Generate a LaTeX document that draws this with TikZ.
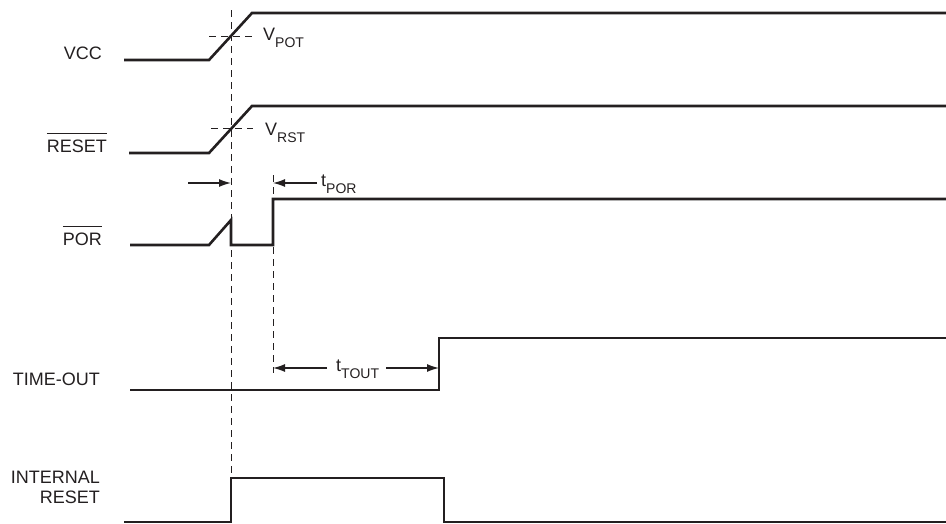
\documentclass[tikz,border=0pt]{standalone}
\usepackage{fontspec}
\setmainfont{Liberation Sans}
\usetikzlibrary{arrows.meta}
\definecolor{ink}{RGB}{35,31,32}
\newcommand\lsub[1]{\raisebox{-7pt}{\fontsize{14}{14}\selectfont #1}}
\newcommand\ovl[1]{\vbox{\hrule height 0.9pt \kern 6pt \hbox{#1}}}
\begin{document}
\begin{tikzpicture}[x=1pt,y=-1pt,
  sig/.style={draw=ink, line width=2.6pt, line join=miter},
  dsh/.style={draw=ink, line width=1pt, dash pattern=on 7pt off 5pt},
  dimarrow/.style={draw=ink, line width=1.3pt, -{Latex[length=12pt,width=8pt]}},
  lbl/.style={font=\fontsize{18}{20}\selectfont, inner sep=0pt, text=ink}]
\useasboundingbox (0,0) rectangle (946,523);

% labels
\node[lbl, anchor=base east] (lvcc) at (102,59) {VCC};
\node[lbl, anchor=base east] (lrst) at (107,152) {\ovl{RESET}};
\node[lbl, anchor=base east] (lpor) at (102,245) {\ovl{POR}};
\node[lbl, anchor=base east] (lto) at (100,385) {TIME-OUT};
\node[lbl, anchor=base east, align=right] (lir) at (100,503) {INTERNAL\\RESET};

% coordinates
\coordinate (vdTop) at (231,10);
\coordinate (vdBot) at (231,523);
\coordinate (pdTop) at (273,175);
\coordinate (pdBot) at (273,373);

% dashed verticals
\draw[dsh] (vdTop) -- (vdBot);
\draw[dsh] (pdTop) -- (pdBot);

% threshold dashes
\coordinate (potA) at (209,36); \coordinate (potB) at (253,36);
\coordinate (rstA) at (211,128); \coordinate (rstB) at (253,128);
\draw[dsh] (potA) -- (potB);
\draw[dsh] (rstA) -- (rstB);
\node[lbl, anchor=base west] (vpot) at (263,40) {V\lsub{POT}};
\node[lbl, anchor=base west] (vrst) at (265,135) {V\lsub{RST}};

% signals
\draw[sig] (124,60) -- (209,60) -- (252,13) -- (946,13);
\draw[sig] (129,153) -- (209,153) -- (252,106) -- (946,106);
\draw[sig] (130,245) -- (209,245) -- (231,220) -- (231,245) -- (273,245) -- (273,199) -- (946,199);
\draw[sig] (130,390) -- (439,390) -- (439,338) -- (946,338);
\draw[sig] (124,522) -- (231,522) -- (231,478) -- (444,478) -- (444,522) -- (946,522);

% dimension arrows
\coordinate (a1s) at (188,183); \coordinate (a1e) at (231,183);
\coordinate (a2s) at (317,183); \coordinate (a2e) at (273,183);
\coordinate (a3s) at (327,368); \coordinate (a3e) at (273,368);
\coordinate (a4s) at (386,368); \coordinate (a4e) at (439,368);
\draw[dimarrow] (a1s) -- (a1e);
\draw[dimarrow] (a2s) -- (a2e);
\draw[dimarrow] (a3s) -- (a3e);
\draw[dimarrow] (a4s) -- (a4e);
\node[lbl, anchor=base west] (tpor) at (321,186) {t\lsub{POR}};
\node[lbl, anchor=base west] (ttout) at (336,371) {t\lsub{TOUT}};
\end{tikzpicture}
\end{document}
